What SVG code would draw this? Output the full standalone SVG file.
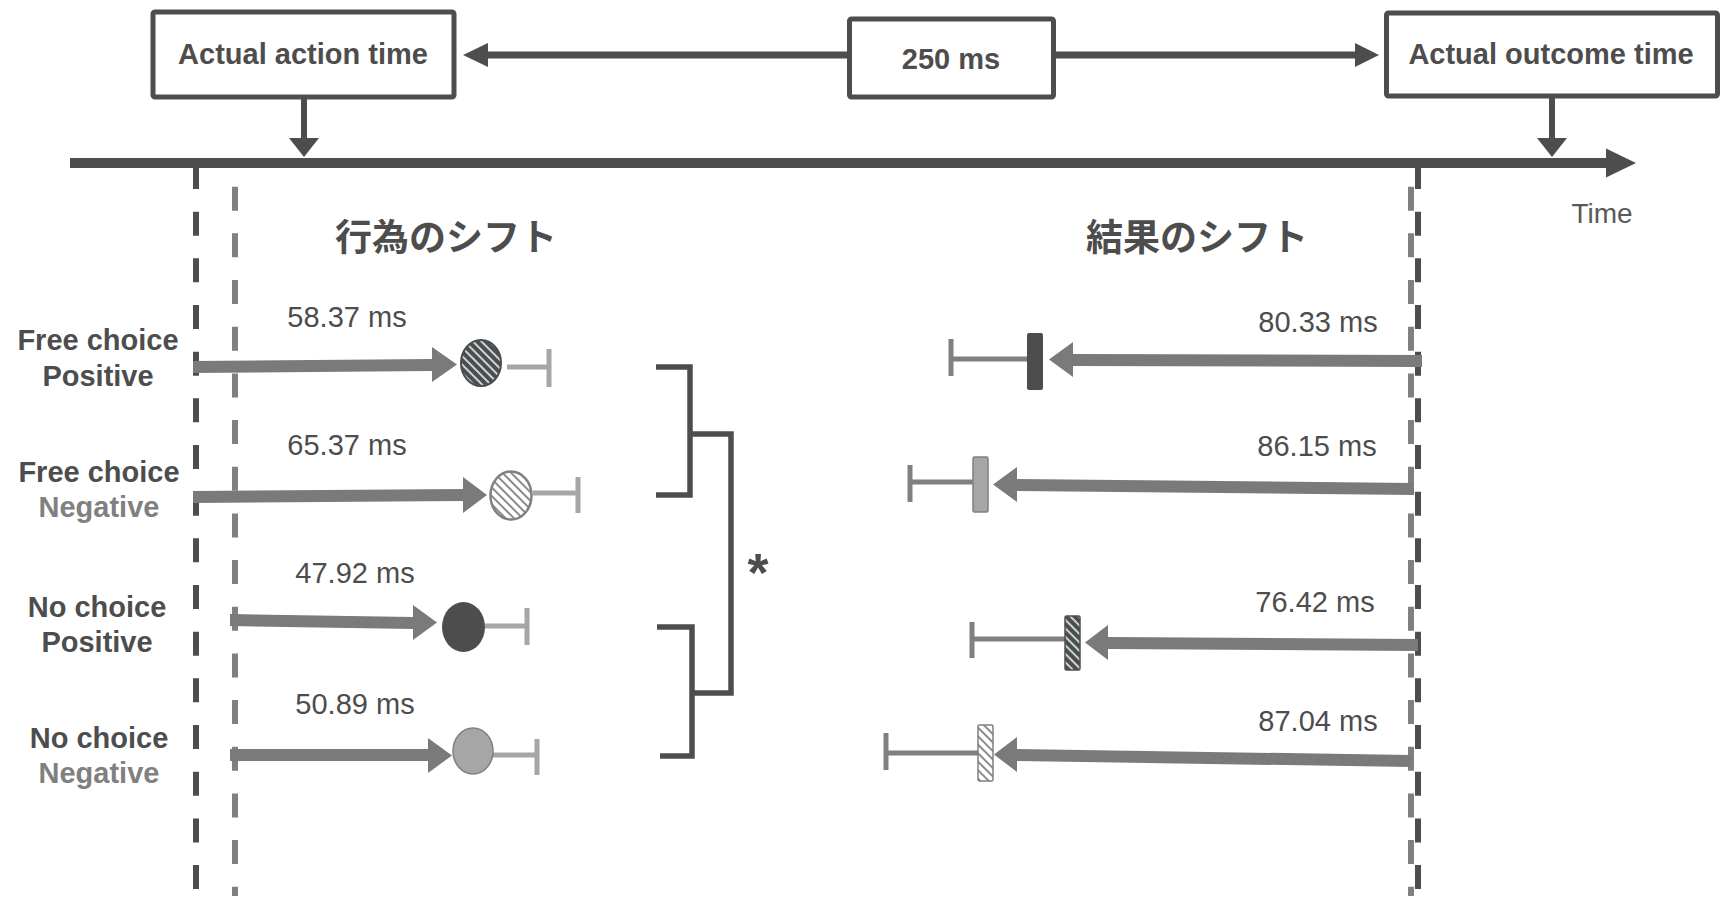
<svg xmlns="http://www.w3.org/2000/svg" width="1730" height="908" viewBox="0 0 1730 908">
  <style>
    .box { fill: #ffffff; stroke: #4d4d4d; stroke-width: 5; }
    .hdr { font-family: "Liberation Sans", Arial, sans-serif; font-weight: bold; font-size: 29px; fill: #4d4d4d; text-anchor: middle; }
    .lbl { font-family: "Liberation Sans", Arial, sans-serif; font-weight: bold; font-size: 29px; fill: #4d4d4d; text-anchor: middle; }
    .neg { fill: #808080; }
    .val { font-family: "Liberation Sans", Arial, sans-serif; font-size: 29px; fill: #4d4d4d; text-anchor: middle; }
    .jp { font-family: "Noto Sans CJK JP", "Noto Sans CJK SC", sans-serif; font-weight: bold; font-size: 37px; fill: #4d4d4d; text-anchor: middle; }
    .dark { fill: #4d4d4d; }
    .shift { fill: #7a7a7a; }
    .dashDark { stroke: #4d4d4d; stroke-width: 6; stroke-dasharray: 24 22.67; fill: none; }
    .dashGray { stroke: #808080; stroke-width: 6; stroke-dasharray: 24 22.67; fill: none; }
    .errL { stroke: #a6a6a6; fill: none; }
    .errR { stroke: #808080; fill: none; }
    .brk { stroke: #4d4d4d; stroke-width: 5.5; fill: none; }
  </style>
  <defs>
    <pattern id="hatchDark" patternUnits="userSpaceOnUse" width="6" height="6" patternTransform="rotate(-45)">
      <rect width="6" height="6" fill="#4d4d4d"/>
      <line x1="3" y1="0" x2="3" y2="6" stroke="#d6e4ec" stroke-width="1.8"/>
    </pattern>
    <pattern id="hatchLight" patternUnits="userSpaceOnUse" width="6" height="6" patternTransform="rotate(-45)">
      <rect width="6" height="6" fill="#ffffff"/>
      <line x1="3" y1="0" x2="3" y2="6" stroke="#8c8c8c" stroke-width="2"/>
    </pattern>
  </defs>

  <rect width="1730" height="908" fill="#ffffff"/>

  <!-- time axis -->
  <g id="timeline">
    <rect x="70" y="158" width="1538" height="10" class="dark"/>
    <polygon points="1606,148.5 1636,163 1606,177.5" class="dark"/>
    <text x="1602" y="223" font-family="Liberation Sans, Arial, sans-serif" font-size="28" fill="#595959" text-anchor="middle">Time</text>
  </g>

  <!-- reference lines -->
  <g id="guides">
    <line x1="196" y1="165" x2="196" y2="890" class="dashDark"/>
    <line x1="235" y1="186.7" x2="235" y2="896" class="dashGray"/>
    <line x1="1411" y1="186.7" x2="1411" y2="896" class="dashGray"/>
    <line x1="1418" y1="165" x2="1418" y2="890" class="dashDark"/>
  </g>

  <g id="action-box">
    <rect x="153" y="12" width="301" height="85" rx="2" class="box"/>
    <text x="303" y="64" class="hdr">Actual action time</text>
  </g>
  <g id="interval-box">
    <rect x="849.5" y="19" width="204" height="78" rx="2" class="box"/>
    <text x="951" y="69" class="hdr">250 ms</text>
  </g>
  <g id="outcome-box">
    <rect x="1386.5" y="13" width="331" height="83" rx="2" class="box"/>
    <text x="1551" y="64" class="hdr">Actual outcome time</text>
  </g>

  <g id="connectors">
    <!-- interval arrows -->
    <polygon points="847,51.5 488,51.5 488,43 463,55 488,67 488,58.5 847,58.5" class="dark"/>
    <polygon points="1056,51.5 1355,51.5 1355,43 1379,55 1355,67 1355,58.5 1056,58.5" class="dark"/>
    <!-- markers onto the axis -->
    <polygon points="301,97 307,97 307,138 319,138 304,157 289,138 301,138" class="dark"/>
    <polygon points="1549,96 1555,96 1555,138 1567,138 1552,157 1537,138 1549,138" class="dark"/>
  </g>

  <g id="section-titles">
    <text x="446" y="251" class="jp">行為のシフト</text>
    <text x="1197" y="251" class="jp">結果のシフト</text>
  </g>

  <g id="row-labels">
    <text x="98" y="350" class="lbl">Free choice</text>
    <text x="98" y="386" class="lbl">Positive</text>
    <text x="99" y="482" class="lbl">Free choice</text>
    <text x="99" y="517" class="lbl neg">Negative</text>
    <text x="97" y="617" class="lbl">No choice</text>
    <text x="97" y="652" class="lbl">Positive</text>
    <text x="99" y="748" class="lbl">No choice</text>
    <text x="99" y="783" class="lbl neg">Negative</text>
  </g>

  <!-- action shifts -->
  <g id="action-fc-pos">
    <text x="347" y="327" class="val">58.37 ms</text>
    <polygon points="193,361 432,359 432,347 457,364.5 432,382 432,371 193,373" class="shift"/>
    <path d="M507 367 H549 M549 349 V387" class="errL" stroke-width="5"/>
    <ellipse cx="481" cy="363" rx="20" ry="23" fill="url(#hatchDark)" stroke="#4d4d4d" stroke-width="2"/>
  </g>
  <g id="action-fc-neg">
    <text x="347" y="455" class="val">65.37 ms</text>
    <polygon points="193,491 463,489 463,477 487,495 463,513 463,501 193,503" class="shift"/>
    <path d="M533 493 H578 M578 477 V513" class="errL" stroke-width="5"/>
    <ellipse cx="511" cy="495.5" rx="20.5" ry="24" fill="url(#hatchLight)" stroke="#808080" stroke-width="2.5"/>
  </g>
  <g id="action-nc-pos">
    <text x="355" y="583" class="val">47.92 ms</text>
    <polygon points="230,614 413,617 413,605 437,622.5 413,640 413,629 230,626" class="shift"/>
    <path d="M485 626 H527 M527 608 V645" class="errL" stroke-width="5"/>
    <ellipse cx="463.5" cy="627" rx="21.5" ry="25" class="dark"/>
  </g>
  <g id="action-nc-neg">
    <text x="355" y="714" class="val">50.89 ms</text>
    <polygon points="230,749 428,749 428,738 452,755.5 428,773 428,761 230,761" class="shift"/>
    <path d="M493 755 H537 M537 739 V775" class="errL" stroke-width="5"/>
    <ellipse cx="473" cy="751" rx="20" ry="23" fill="#a6a6a6" stroke="#808080" stroke-width="1.5"/>
  </g>

  <!-- significance bracket -->
  <g id="significance">
    <path d="M656 367 H690 V495 H656" class="brk"/>
    <path d="M657 627 H692 V756 H660" class="brk"/>
    <path d="M690 434 H731 V693 H692" class="brk"/>
    <text x="758" y="591" font-family="Liberation Sans, Arial, sans-serif" font-weight="bold" font-size="54" fill="#4d4d4d" text-anchor="middle">*</text>
  </g>

  <!-- outcome shifts -->
  <g id="outcome-fc-pos">
    <text x="1318" y="332" class="val">80.33 ms</text>
    <polygon points="1422,355 1073,354 1073,342 1049,359.5 1073,377 1073,366 1422,367" class="shift"/>
    <path d="M951 359 H1027 M951 339 V376" class="errR" stroke-width="5"/>
    <rect x="1027" y="333" width="16" height="57" rx="2" class="dark"/>
  </g>
  <g id="outcome-fc-neg">
    <text x="1317" y="456" class="val">86.15 ms</text>
    <polygon points="1414,483 1017,479 1017,467 993,484.5 1017,502 1017,491 1414,495" class="shift"/>
    <path d="M910 482 H973 M910 465 V502" class="errR" stroke-width="5"/>
    <rect x="973" y="457" width="15" height="55" rx="1.5" fill="#a6a6a6" stroke="#808080" stroke-width="1.5"/>
  </g>
  <g id="outcome-nc-pos">
    <text x="1315" y="612" class="val">76.42 ms</text>
    <polygon points="1418,639 1108,637 1108,625 1085,642.5 1108,660 1108,649 1418,651" class="shift"/>
    <path d="M972 639 H1065 M972 622 V658" class="errR" stroke-width="5"/>
    <rect x="1065" y="616" width="15" height="54" rx="1.5" fill="url(#hatchDark)" stroke="#4d4d4d" stroke-width="1.5"/>
  </g>
  <g id="outcome-nc-neg">
    <text x="1318" y="731" class="val">87.04 ms</text>
    <polygon points="1411,755 1017,749 1017,737 994,754.5 1017,772 1017,761 1411,767" class="shift"/>
    <path d="M886 753 H978 M886 733 V770" class="errR" stroke-width="5"/>
    <rect x="978" y="725" width="15" height="56" rx="1.5" fill="url(#hatchLight)" stroke="#808080" stroke-width="1.5"/>
  </g>
</svg>
